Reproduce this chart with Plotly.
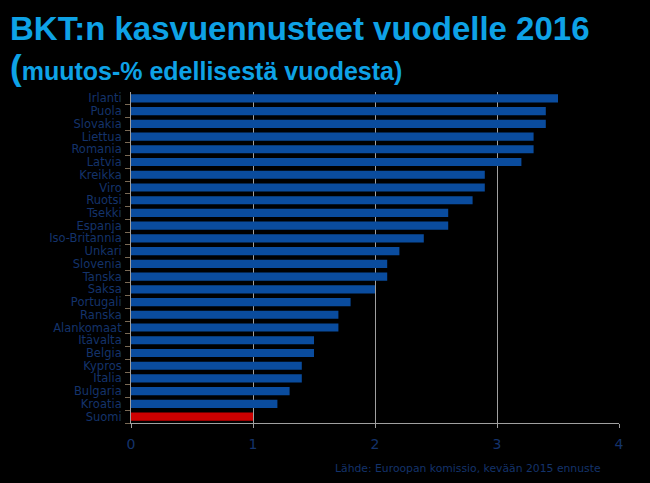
import plotly.graph_objects as go

countries = ["Irlanti", "Puola", "Slovakia", "Liettua", "Romania", "Latvia", "Kreikka", "Viro",
             "Ruotsi", "Tsekki", "Espanja", "Iso-Britannia", "Unkari", "Slovenia", "Tanska", "Saksa",
             "Portugali", "Ranska", "Alankomaat", "Itävalta", "Belgia", "Kypros", "Italia",
             "Bulgaria", "Kroatia", "Suomi"]
growth = [3.5, 3.4, 3.4, 3.3, 3.3, 3.2, 2.9, 2.9, 2.8, 2.6, 2.6, 2.4, 2.2, 2.1, 2.1, 2.0,
          1.8, 1.7, 1.7, 1.5, 1.5, 1.4, 1.4, 1.3, 1.2, 1.0]
highlight = "Suomi"

title_text = "BKT:n kasvuennusteet vuodelle 2016"
subtitle_text = "muutos-% edellisestä vuodesta)"
source_text = "Lähde: Euroopan komissio, kevään 2015 ennuste"

BLUE = "#0a4c9e"
RED = "#cc0000"
LABEL = "#14336b"
TITLE = "#0ea2e6"

colors = [RED if c == highlight else BLUE for c in countries]

fig = go.Figure(go.Bar(
    x=growth, y=countries, orientation="h",
    marker=dict(color=colors, line=dict(width=0)),
))

fig.update_layout(
    width=650, height=483,
    paper_bgcolor="black", plot_bgcolor="black",
    margin=dict(l=131, r=31, t=92, b=60),
    bargap=0.36,
    showlegend=False,
    font=dict(family="DejaVu Sans", color=LABEL),
)
fig.update_xaxes(
    range=[0, 4], dtick=1, tick0=0,
    showgrid=True, gridcolor="#a0a0a0", gridwidth=1,
    zeroline=False,
    showline=True, linecolor="#a0a0a0", linewidth=1,
    ticks="outside", ticklen=4, tickcolor="#a0a0a0",
    ticklabelstandoff=4,
    tickfont=dict(family="DejaVu Sans", size=14, color=LABEL),
)
fig.update_yaxes(
    categoryorder="array", categoryarray=countries[::-1],
    tickmode="array", tickvals=countries, ticktext=countries,
    autorange=False, range=[-0.5, len(countries) - 0.5],
    showgrid=False, zeroline=False,
    showline=True, linecolor="#a0a0a0", linewidth=1,
    ticks="outside", ticklen=5, tickcolor="#7a6a55", tickson="boundaries",
    ticklabelstandoff=6,
    tickfont=dict(family="DejaVu Sans", size=11.5, color=LABEL),
)

fig.add_annotation(
    xref="paper", yref="paper", x=(8 - 131)/488, y=1 + (92 - 29)/331,
    xanchor="left", yanchor="middle", showarrow=False,
    text="<b>" + title_text + "</b>",
    font=dict(family="Liberation Sans", size=33, color=TITLE),
)
fig.add_annotation(
    xref="paper", yref="paper", x=(8 - 131)/488, y=1 + (92 - 68)/331,
    xanchor="left", yanchor="middle", showarrow=False,
    text="<b><span style='font-size:35px'>(</span>" + subtitle_text + "</b>",
    font=dict(family="Liberation Sans", size=25, color=TITLE),
)
fig.add_annotation(
    xref="paper", yref="paper", x=(468 - 131)/488, y=-(468 - 423)/331,
    xanchor="center", yanchor="middle", showarrow=False,
    text=source_text,
    font=dict(family="DejaVu Sans", size=10.8, color=LABEL),
)

fig.write_html("out.html", config={"displayModeBar": False},
               post_script="document.body.style.margin='0';document.body.style.background='black';")
